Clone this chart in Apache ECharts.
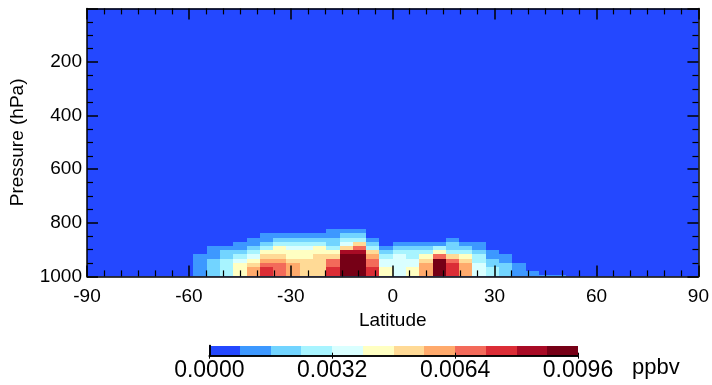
<!DOCTYPE html>
<html><head><meta charset="utf-8">
<script src="https://cdn.jsdelivr.net/npm/echarts@6/dist/echarts.min.js"></script>
<style>html,body{margin:0;padding:0;background:#fff}#c{width:712px;height:385px}</style>
</head><body><div id="c"></div>
<script>
// ---- data ----
const latTicks = [-90, -60, -30, 0, 30, 60, 90];
const pressureTicks = [200, 400, 600, 800, 1000];
const nLat = 46; // latitude bands, south to north, evenly spaced over -90..90
// pressure edges of the lowest model levels (hPa), bottom first
const levelEdges = [1000, 995, 980, 965, 949, 934, 917.5, 901.5, 886.5, 870.5, 855.5, 839, 824, 808];
// concentration (ppbv) for each level, index 0 = lowest level; 46 latitude bands each
const lev0  = [0,0,0,0,0,0,0,0, .0012,.0020,.0028,.0044,.0060,.0076,.0068,.0060,.0052,.0052,.0076,.0092,.0092,.0076,.0044,.0036,.0044,.0060,.0092,.0076,.0060,.0036,.0028,.0020,.0012,.0012,.0012,.0012, 0,0,0,0,0,0,0,0,0,0];
const lev1  = [0,0,0,0,0,0,0,0, .0012,.0020,.0028,.0044,.0060,.0076,.0068,.0060,.0052,.0052,.0076,.0092,.0092,.0076,.0044,.0036,.0044,.0060,.0092,.0076,.0060,.0036,.0028,.0020,.0012,.0012,0,0, 0,0,0,0,0,0,0,0,0,0];
const lev2  = [0,0,0,0,0,0,0,0, .0012,.0020,.0028,.0044,.0060,.0076,.0068,.0060,.0052,.0052,.0076,.0092,.0092,.0076,.0044,.0036,.0044,.0060,.0092,.0076,.0060,.0036,.0028,.0020,.0012,0,0,0, 0,0,0,0,0,0,0,0,0,0];
const lev3  = [0,0,0,0,0,0,0,0, .0012,.0020,.0028,.0044,.0052,.0068,.0068,.0060,.0052,.0052,.0068,.0092,.0092,.0068,.0036,.0036,.0036,.0060,.0092,.0076,.0060,.0036,.0020,.0020,.0012,0,0,0, 0,0,0,0,0,0,0,0,0,0];
const lev4  = [0,0,0,0,0,0,0,0, .0012,.0020,.0028,.0036,.0044,.0060,.0060,.0052,.0052,.0052,.0068,.0092,.0092,.0068,.0036,.0036,.0036,.0052,.0092,.0068,.0052,.0028,.0020,.0012,0,0,0,0, 0,0,0,0,0,0,0,0,0,0];
const lev5  = [0,0,0,0,0,0,0,0, .0012,.0012,.0020,.0028,.0036,.0052,.0052,.0044,.0044,.0052,.0052,.0092,.0092,.0060,.0028,.0036,.0028,.0044,.0068,.0052,.0044,.0028,.0012,.0012,0,0,0,0, 0,0,0,0,0,0,0,0,0,0];
const lev6  = [0,0,0,0,0,0,0,0, 0,.0012,.0020,.0020,.0028,.0044,.0044,.0044,.0044,.0044,.0044,.0084,.0084,.0052,.0020,.0028,.0028,.0028,.0044,.0028,.0028,.0020,.0012,0,0,0,0,0, 0,0,0,0,0,0,0,0,0,0];
const lev7  = [0,0,0,0,0,0,0,0, 0,.0012,.0012,.0012,.0020,.0028,.0044,.0036,.0036,.0044,.0028,.0052,.0068,.0028,.0012,.0020,.0020,.0020,.0028,.0020,.0020,.0012,0,0,0,0,0,0, 0,0,0,0,0,0,0,0,0,0];
const lev8  = [0,0,0,0,0,0,0,0, 0,0,0,.0012,.0012,.0020,.0028,.0028,.0028,.0028,.0020,.0036,.0052,.0020,0,.0012,.0012,.0012,.0012,.0020,.0012,.0012,0,0,0,0,0,0, 0,0,0,0,0,0,0,0,0,0];
const lev9  = [0,0,0,0,0,0,0,0, 0,0,0,0,.0012,.0012,.0020,.0020,.0020,.0020,.0020,.0028,.0028,.0012,0,0,0,0,0,.0012,0,0,0,0,0,0,0,0, 0,0,0,0,0,0,0,0,0,0];
const lev10 = [0,0,0,0,0,0,0,0, 0,0,0,0,0,.0012,.0012,.0012,.0012,.0012,.0012,.0020,.0020,0,0,0,0,0,0,0,0,0,0,0,0,0,0,0, 0,0,0,0,0,0,0,0,0,0];
const lev11 = [0,0,0,0,0,0,0,0, 0,0,0,0,0,0,0,0,0,0,.0012,.0012,.0012,0,0,0,0,0,0,0,0,0,0,0,0,0,0,0, 0,0,0,0,0,0,0,0,0,0];
const levels = [lev0, lev1, lev2, lev3, lev4, lev5, lev6, lev7, lev8, lev9, lev10, lev11];
// colour scale
const scaleBounds = [0, .0008, .0016, .0024, .0032, .0040, .0048, .0056, .0064, .0072, .0080, .0088, .0096];
const scaleColors = ['#2448FF','#3D98FF','#72D4FF','#A8F4FF','#DAFFFF','#FFFFC2','#FFDA96','#FFAA6C','#F36A5A','#DB2D36','#A80B25','#760016'];
const barTicks = [0, .0032, .0064, .0096];
const unitText = 'ppbv';

// ---- build ----
function colorOf(v) {
  for (let i = scaleColors.length - 1; i >= 0; i--) if (v >= scaleBounds[i]) return scaleColors[i];
  return scaleColors[0];
}
const dLat = 180 / nLat;
const cells = [];
levels.forEach((row, r) => row.forEach((v, k) => {
  if (v > 0) cells.push([-90 + (k + 0.5) * dLat, (levelEdges[r] + levelEdges[r + 1]) / 2, v, k, r]);
}));
const barCells = scaleColors.map((c, i) => [(scaleBounds[i] + scaleBounds[i + 1]) / 2, 0.5, i]);

const chart = echarts.init(document.getElementById('c'), null, {renderer: 'canvas'});
const black = '#000';
const font = 'Liberation Sans, Arial, sans-serif';
function frameAxis(extra) {
  return Object.assign({
    axisLine: {show: true, onZero: false, lineStyle: {color: black, width: 1.5}},
    axisTick: {show: true, inside: true, length: 11, lineStyle: {color: black, width: 1.5}},
    minorTick: {show: true, length: 6, lineStyle: {color: black, width: 1.2}},
    splitLine: {show: false}, minorSplitLine: {show: false}, z: 10
  }, extra);
}
function rectItem(a, b, c) {
  const x0 = Math.round(a[0]), x1 = Math.round(b[0]);
  const y0 = Math.round(b[1]), y1 = Math.round(a[1]);
  return {type: 'rect', shape: {x: x0, y: y0, width: x1 - x0, height: y1 - y0}, style: {fill: c}};
}
chart.setOption({
  animation: false,
  backgroundColor: '#fff',
  grid: [
    {left: 86.5, width: 612.5, top: 8.4, height: 268, show: true, backgroundColor: scaleColors[0], borderWidth: 0},
    {left: 209.3, width: 368.7, top: 345.5, height: 10.2, show: false}
  ],
  xAxis: [
    frameAxis({gridIndex: 0, type: 'value', min: latTicks[0], max: latTicks[latTicks.length - 1], interval: 30, position: 'bottom',
      minorTick: {show: true, splitNumber: 6, length: 6, lineStyle: {color: black, width: 1.2}},
      axisLabel: {color: black, fontSize: 19, fontFamily: font, margin: 11, formatter: v => String(v)},
      name: 'Latitude', nameLocation: 'middle', nameGap: 29, nameTextStyle: {color: black, fontSize: 19, fontFamily: font}}),
    frameAxis({gridIndex: 0, type: 'value', min: -90, max: 90, interval: 30, position: 'top',
      minorTick: {show: true, splitNumber: 6, length: 6, lineStyle: {color: black, width: 1.2}},
      axisLabel: {show: false}}),
    {gridIndex: 1, type: 'value', min: scaleBounds[0], max: scaleBounds[scaleBounds.length - 1], interval: .0032, position: 'bottom',
      axisLine: {show: true, lineStyle: {color: black, width: 1.5}},
      axisTick: {show: true, inside: true, length: 3, lineStyle: {color: black, width: 1}},
      axisLabel: {color: black, fontSize: 23, fontFamily: font, margin: 3, formatter: v => v.toFixed(4)},
      splitLine: {show: false}, z: 10},
    {gridIndex: 1, type: 'value', min: 0, max: .0096, interval: .0032, position: 'top',
      axisLine: {show: true, lineStyle: {color: black, width: 1.5}},
      axisTick: {show: true, inside: true, length: 3, lineStyle: {color: black, width: 1}},
      axisLabel: {show: false}, splitLine: {show: false}, z: 10}
  ],
  yAxis: [
    frameAxis({gridIndex: 0, type: 'value', min: 0, max: 1000, interval: 200, inverse: true, position: 'left',
      minorTick: {show: true, splitNumber: 4, length: 6, lineStyle: {color: black, width: 1.2}},
      axisLabel: {color: black, fontSize: 19, fontFamily: font, margin: 5, showMinLabel: false, formatter: v => String(v)},
      name: 'Pressure (hPa)', nameLocation: 'middle', nameGap: 60, nameTextStyle: {color: black, fontSize: 19, fontFamily: font}}),
    frameAxis({gridIndex: 0, type: 'value', min: 0, max: 1000, interval: 200, inverse: true, position: 'right',
      minorTick: {show: true, splitNumber: 4, length: 6, lineStyle: {color: black, width: 1.2}},
      axisLabel: {show: false}}),
    {gridIndex: 1, type: 'value', min: 0, max: 1, show: true, position: 'left',
      axisLine: {show: true, lineStyle: {color: black, width: 1.5}}, axisTick: {show: false}, axisLabel: {show: false}, splitLine: {show: false}, z: 10},
    {gridIndex: 1, type: 'value', min: 0, max: 1, show: true, position: 'right',
      axisLine: {show: true, lineStyle: {color: black, width: 1.5}}, axisTick: {show: false}, axisLabel: {show: false}, splitLine: {show: false}, z: 10}
  ],
  graphic: [
    {type: 'text', left: 632, top: 357, style: {text: unitText, fill: black, fontSize: 22, fontFamily: font}}
  ],
  series: [
    {type: 'custom', xAxisIndex: 0, yAxisIndex: 0, clip: true, data: cells, encode: {x: 0, y: 1},
      renderItem: function (params, api) {
        const k = api.value(3), r = api.value(4);
        const a = api.coord([-90 + k * dLat, levelEdges[r]]);
        const b = api.coord([-90 + (k + 1) * dLat, levelEdges[r + 1]]);
        return rectItem(a, b, colorOf(api.value(2)));
      }},
    {type: 'custom', xAxisIndex: 2, yAxisIndex: 2, data: barCells, encode: {x: 0, y: 1},
      renderItem: function (params, api) {
        const i = api.value(2);
        const a = api.coord([scaleBounds[i], 0]);
        const b = api.coord([scaleBounds[i + 1], 1]);
        return rectItem(a, b, scaleColors[i]);
      }}
  ]
});
</script></body></html>
